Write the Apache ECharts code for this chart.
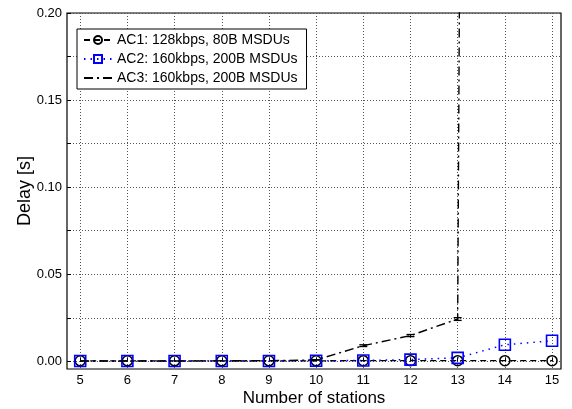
<!DOCTYPE html>
<html><head><meta charset="utf-8">
<script src="https://cdn.jsdelivr.net/npm/echarts@6/dist/echarts.min.js"></script>
<style>html,body{margin:0;padding:0;background:#fff}#c{width:572px;height:409px}</style>
</head><body><div id="c"></div><script>
// ---- data ----
const stations = [5, 6, 7, 8, 9, 10, 11, 12, 13, 14, 15];
const ac1Delay = [0.0003, 0.0003, 0.0003, 0.0003, 0.0003, 0.0003, 0.0004, 0.0004, 0.0004, 0.0004, 0.0004];
const ac2Delay = [0.0002, 0.0002, 0.0002, 0.0002, 0.0002, 0.0003, 0.0005, 0.0010, 0.0020, 0.0095, 0.0118];
const ac3Delay = [0.0002, 0.0002, 0.0002, 0.0003, 0.0004, 0.0008, 0.0090, 0.0148, 0.0243, 5.0, null];
const ac3Err   = [0, 0, 0, 0, 0, 0.0001, 0.0005, 0.0006, 0.0008, 0, 0];
const xTicks = [5, 6, 7, 8, 9, 10, 11, 12, 13, 14, 15];
const yLabels = [0, 0.05, 0.10, 0.15, 0.20];
const yGrid = [0, 0.025, 0.05, 0.075, 0.10, 0.125, 0.15, 0.175, 0.20];
const seriesNames = ['AC1: 128kbps, 80B MSDUs', 'AC2: 160kbps, 200B MSDUs', 'AC3: 160kbps, 200B MSDUs'];

const FONT = '"Liberation Sans", Arial, Helvetica, sans-serif';
const pairs = arr => stations.map((s, i) => [s, arr[i]]);
const errData = stations.map((s, i) => [s, ac3Delay[i] - ac3Err[i], ac3Delay[i] + ac3Err[i]])
  .filter((d, i) => ac3Err[i] > 0);

const chart = echarts.init(document.getElementById('c'), null, {renderer: 'canvas'});
chart.setOption({
  animation: false,
  backgroundColor: '#fff',
  textStyle: {fontFamily: FONT},
  grid: {left: 67, right: 11, top: 13, bottom: 40, show: true, borderColor: '#000', borderWidth: 1.2,
    backgroundColor: 'transparent', containLabel: false, outerBoundsMode: 'none'},
  legend: {
    orient: 'vertical', left: 77, top: 29,
    padding: [4, 9, 4, 6], itemGap: 5, itemWidth: 28, itemHeight: 10,
    borderColor: '#000', borderWidth: 1, backgroundColor: '#fff',
    textStyle: {fontFamily: FONT, fontSize: 14, color: '#000'},
    data: [
      {name: seriesNames[0]},
      {name: seriesNames[1]},
      {name: seriesNames[2], itemStyle: {opacity: 0}}
    ]
  },
  xAxis: {
    type: 'value', min: 4.72, max: 15.19,
    name: 'Number of stations', nameLocation: 'middle', nameGap: 21, nameMoveOverlap: false,
    nameTextStyle: {fontFamily: FONT, fontSize: 17, color: '#000'},
    axisLine: {show: false},
    axisTick: {show: true, inside: true, length: 4, customValues: xTicks, lineStyle: {color: '#000'}},
    axisLabel: {customValues: xTicks, margin: 5, fontFamily: FONT, fontSize: 13, color: '#000'},
    splitLine: {show: true, lineStyle: {color: '#555', type: [1, 2], width: 1}}
  },
  yAxis: {
    type: 'value', min: -0.0044, max: 0.2,
    name: 'Delay [s]', nameLocation: 'middle', nameGap: 33, nameRotate: 90, nameMoveOverlap: false,
    nameTextStyle: {fontFamily: FONT, fontSize: 18, color: '#000'},
    axisLine: {show: false},
    axisTick: {show: true, inside: true, length: 4, customValues: yGrid, lineStyle: {color: '#000'}},
    axisLabel: {customValues: yLabels, margin: 5, fontFamily: FONT, fontSize: 13, color: '#000',
      formatter: v => v.toFixed(2)},
    splitLine: {show: true, lineStyle: {color: '#555', type: [1, 2], width: 1}}
  },
  series: [
    {
      name: seriesNames[0], type: 'line', data: pairs(ac1Delay),
      symbol: 'circle', symbolSize: 10, showSymbol: true,
      lineStyle: {color: '#000', width: 1.3, type: [6, 4]},
      itemStyle: {color: 'rgba(255,255,255,0)', borderColor: '#000', borderWidth: 1.5},
      z: 2
    },
    {
      name: seriesNames[1], type: 'line', data: pairs(ac2Delay),
      symbol: 'rect', symbolSize: 11, showSymbol: true,
      lineStyle: {color: '#0000ff', width: 1.5, type: [1.5, 5]},
      itemStyle: {color: 'rgba(255,255,255,0)', borderColor: '#0000ff', borderWidth: 1.6},
      z: 3
    },
    {
      name: seriesNames[2], type: 'line', data: pairs(ac3Delay),
      symbol: 'none', showSymbol: false, connectNulls: false,
      lineStyle: {color: '#000', width: 1.4, type: [9, 4, 2, 4]},
      itemStyle: {color: '#000'},
      z: 4
    },
    {
      name: 'ac3err', type: 'custom', data: errData, z: 5,
      renderItem: (params, api) => {
        const x = api.value(0);
        const p1 = api.coord([x, api.value(1)]);
        const p2 = api.coord([x, api.value(2)]);
        const w = 4;
        const st = {stroke: '#000', lineWidth: 1.3};
        return {type: 'group', children: [
          {type: 'line', shape: {x1: p1[0], y1: p1[1], x2: p2[0], y2: p2[1]}, style: st},
          {type: 'line', shape: {x1: p1[0] - w, y1: p1[1], x2: p1[0] + w, y2: p1[1]}, style: st},
          {type: 'line', shape: {x1: p2[0] - w, y1: p2[1], x2: p2[0] + w, y2: p2[1]}, style: st}
        ]};
      }
    }
  ]
});
</script></body></html>
